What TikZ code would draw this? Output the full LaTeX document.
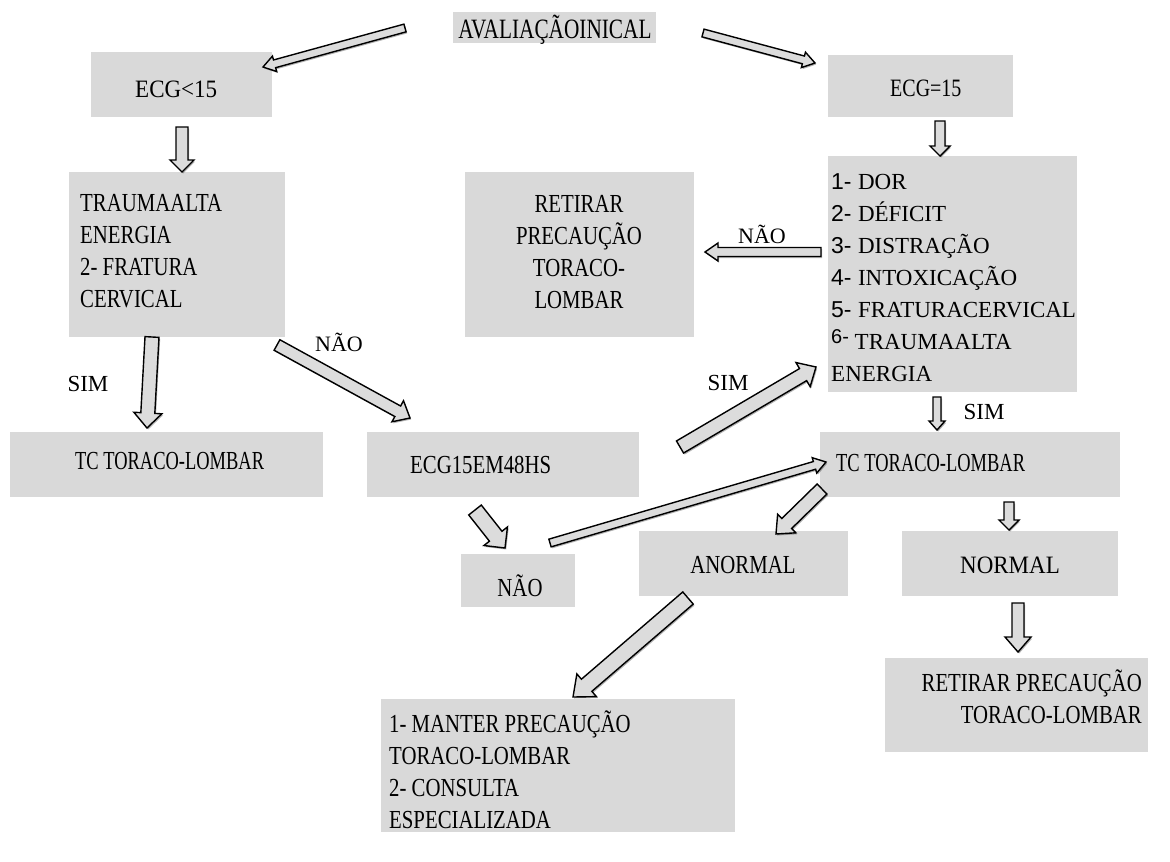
\documentclass[tikz,border=0pt]{standalone}
\usepackage{fontspec}
\setmainfont{Liberation Serif}
\newfontfamily\fntA{Liberation Serif}[FakeStretch=0.8]
\newfontfamily\fntB{Liberation Serif}[FakeStretch=0.71]
\newfontfamily\fntT{Liberation Serif}[FakeStretch=0.76]
\newfontfamily\fntC{Liberation Serif}[FakeStretch=0.92]
\newfontfamily\fntS{Liberation Sans}
\usetikzlibrary{calc,fit,shadows}
\definecolor{boxgray}{HTML}{D9D9D9}
\definecolor{arrgray}{HTML}{DCDCDC}
\tikzset{
  gbox/.style={fill=boxgray, draw=none, inner sep=0pt},
  txt/.style={inner sep=0pt, align=left, anchor=base west, font=\fntA\fontsize{26}{32}\selectfont},
  lbl/.style={inner sep=0pt, anchor=base, font=\fontsize{23}{32}\selectfont},
  barr/.style={draw=black, line width=1.4pt, fill=arrgray, line join=miter,
    drop shadow={shadow xshift=1.2pt, shadow yshift=-1.5pt, opacity=0.3, fill=black}}
}
\newcommand\barrow[5]{%
  \coordinate (hb) at ($(#2)!#5!(#1)$);
  \draw[barr] ($(#1)!#3!90:(#2)$) -- ($(hb)!#3!-90:(#1)$) -- ($(hb)!#4!-90:(#1)$) -- (#2)
    -- ($(hb)!#4!90:(#1)$) -- ($(hb)!#3!90:(#1)$) -- ($(#1)!#3!-90:(#2)$) -- cycle;
}
\begin{document}
\begin{tikzpicture}[x=1pt,y=-1pt]
\useasboundingbox (0,0) rectangle (1170,862);
% boxes
\node[gbox, fit={(453,12) (656,43)}] (title) {};
\node[gbox, fit={(91,52) (272,117)}] (ecgA) {};
\node[gbox, fit={(828,55) (1013,117)}] (ecgB) {};
\node[gbox, fit={(69,172) (285,337)}] (trauma) {};
\node[gbox, fit={(465,172) (694,337)}] (retA) {};
\node[gbox, fit={(828,156) (1077,392)}] (crit) {};
\node[gbox, fit={(10,432) (323,497)}] (tcA) {};
\node[gbox, fit={(367,432) (639,497)}] (ecg48) {};
\node[gbox, fit={(820,432) (1120,497)}] (tcB) {};
\node[gbox, fit={(461,554) (575,607)}] (nao) {};
\node[gbox, fit={(639,531) (848,596)}] (anormal) {};
\node[gbox, fit={(902,531) (1118,596)}] (normal) {};
\node[gbox, fit={(381,699) (735,832)}] (manter) {};
\node[gbox, fit={(885,658) (1148,752)}] (retB) {};
% texts (multi-line nodes: base = baseline of last line)
\node[txt, anchor=base, font=\fntT\fontsize{28}{32}\selectfont] (ttitle) at (555,38) {AVALIAÇÃOINICAL};
\node[txt, font=\fntC\fontsize{25}{32}\selectfont] (tecgA) at (135,97) {ECG<15};
\node[txt, font=\fntA\fontsize{25}{32}\selectfont] (tecgB) at (890,96) {ECG=15};
\node[txt] (ttrauma) at (80,307) {TRAUMAALTA\\ENERGIA\\2- FRATURA\\CERVICAL};
\node[txt, align=center, anchor=base] (tretA) at (579,308) {RETIRAR\\PRECAUÇÃO\\TORACO-\\LOMBAR};
\node[txt, font=\fontsize{23}{32}\selectfont] (tcrit) at (831,381) {{\fntS 1- }DOR\\{\fntS 2- }DÉFICIT\\{\fntS 3- }DISTRAÇÃO\\{\fntS 4- }INTOXICAÇÃO\\{\fntS 5- }FRATURACERVICAL\\\raisebox{6pt}{\fntS\fontsize{20}{24}\selectfont 6-} TRAUMAALTA\\ENERGIA};
\node[txt, font=\fntB\fontsize{26}{32}\selectfont] (ttcA) at (75,469) {TC TORACO-LOMBAR};
\node[txt] (tecg48) at (410,473) {ECG15EM48HS};
\node[txt, font=\fntB\fontsize{26}{32}\selectfont] (ttcB) at (836,471) {TC TORACO-LOMBAR};
\node[txt, anchor=base] (tnao) at (520,596) {NÃO};
\node[txt, anchor=base] (tanormal) at (743,573) {ANORMAL};
\node[txt, anchor=base, font=\fntC\fontsize{25}{32}\selectfont] (tnormal) at (1010,573) {NORMAL};
\node[txt] (tmanter) at (389,828) {1- MANTER PRECAUÇÃO\\TORACO-LOMBAR\\2- CONSULTA\\ESPECIALIZADA};
\node[txt, align=right, anchor=base east] (tretB) at (1142,723) {RETIRAR PRECAUÇÃO\\TORACO-LOMBAR};
% labels
\node[lbl] (lsim1) at (88,391) {SIM};
\node[lbl, font=\fontsize{22}{32}\selectfont] (lnao1) at (339,351) {NÃO};
\node[lbl, font=\fontsize{22}{32}\selectfont] (lnao2) at (762,243) {NÃO};
\node[lbl] (lsim2) at (728,390) {SIM};
\node[lbl] (lsim3) at (984,419) {SIM};
% arrow end points
\coordinate (a1s) at (405,28);  \coordinate (a1e) at (263,67);
\coordinate (a2s) at (703,33);  \coordinate (a2e) at (815,63);
\coordinate (a3s) at (182,127); \coordinate (a3e) at (182,172);
\coordinate (a4s) at (940,121); \coordinate (a4e) at (940,156);
\coordinate (a5s) at (821,252); \coordinate (a5e) at (705,252);
\coordinate (a6s) at (152,337); \coordinate (a6e) at (147,428);
\coordinate (a7s) at (277,345); \coordinate (a7e) at (410,418);
\coordinate (a8s) at (680,447); \coordinate (a8e) at (816,367);
\coordinate (a9s) at (937,397); \coordinate (a9e) at (937,430);
\coordinate (a10s) at (475,510); \coordinate (a10e) at (505,548);
\coordinate (a11s) at (550,543); \coordinate (a11e) at (826,462);
\coordinate (a12s) at (822,489); \coordinate (a12e) at (776,534);
\coordinate (a13s) at (1009,502); \coordinate (a13e) at (1009,530);
\coordinate (a14s) at (688,598); \coordinate (a14e) at (573,697);
\coordinate (a15s) at (1018,603); \coordinate (a15e) at (1018,652);
% arrows
\barrow{a1s}{a1e}{4pt}{8pt}{12pt}
\barrow{a2s}{a2e}{4pt}{8pt}{12pt}
\barrow{a3s}{a3e}{6pt}{12pt}{12pt}
\barrow{a4s}{a4e}{5pt}{10pt}{10pt}
\barrow{a5s}{a5e}{4.5pt}{9pt}{13pt}
\barrow{a6s}{a6e}{7pt}{14pt}{15pt}
\barrow{a7s}{a7e}{6pt}{12pt}{14pt}
\barrow{a8s}{a8e}{7pt}{14pt}{15pt}
\barrow{a9s}{a9e}{4pt}{8pt}{9pt}
\barrow{a10s}{a10e}{8pt}{15pt}{15pt}
\barrow{a11s}{a11e}{4pt}{8pt}{12pt}
\barrow{a12s}{a12e}{7pt}{13pt}{15pt}
\barrow{a13s}{a13e}{5pt}{10pt}{10pt}
\barrow{a14s}{a14e}{8pt}{15pt}{18pt}
\barrow{a15s}{a15e}{6pt}{13pt}{15pt}
\end{tikzpicture}
\end{document}
